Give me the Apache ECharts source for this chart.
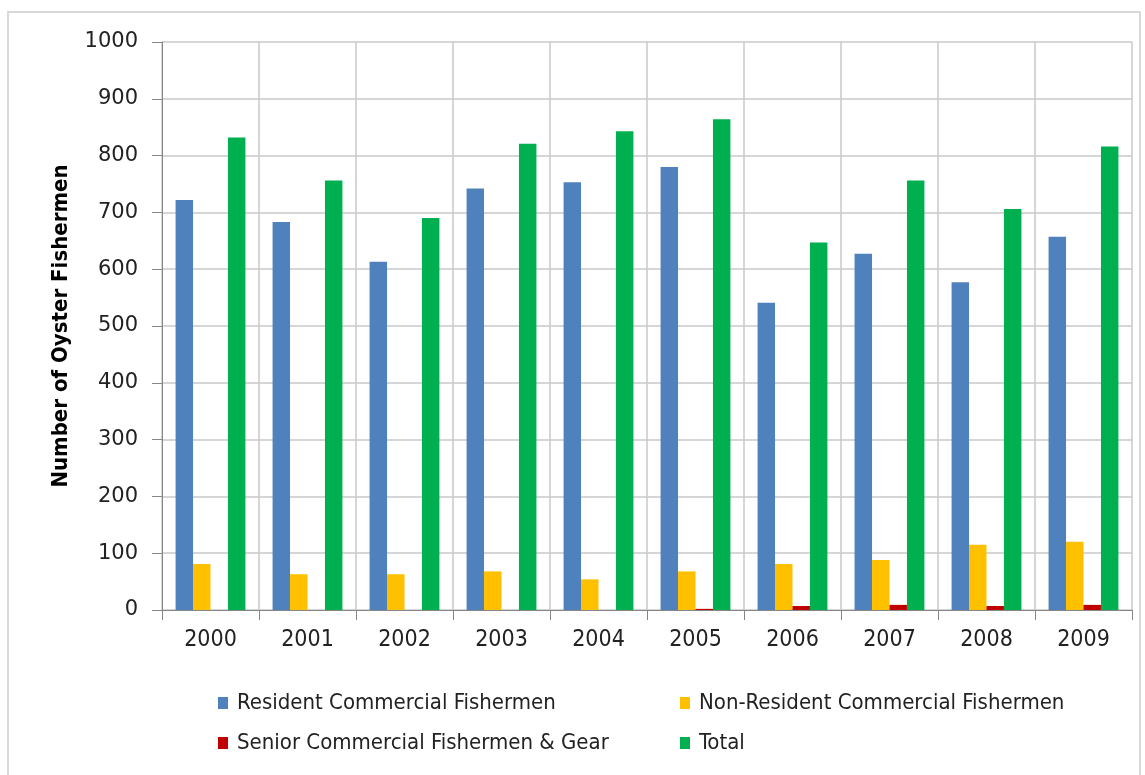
<!DOCTYPE html>
<html>
<head>
<meta charset="utf-8">
<script src="https://cdn.jsdelivr.net/npm/echarts@6/dist/echarts.min.js"></script>
<style>
  html, body { margin: 0; padding: 0; background: #ffffff; }
  #chart { width: 1145px; height: 775px; }
</style>
</head>
<body>
<div id="chart"></div>
<script>
  // years on the x axis
  const years = ['2000', '2001', '2002', '2003', '2004', '2005', '2006', '2007', '2008', '2009']
  const resident = [722, 683, 613, 742, 753, 780, 541, 627, 577, 657]
  const nonResident = [81, 63, 63, 68, 54, 68, 81, 88, 115, 120]
  const senior = [0, 0, 0, 0, 0, 2, 7, 9, 7, 9]
  const total = [832, 756, 690, 821, 843, 864, 647, 756, 706, 816]
  const yTicks = [0, 1000, 100]

  const narrow = "'Liberation Sans Narrow', 'DejaVu Sans Condensed', 'Liberation Sans', sans-serif"
  const color = ['#4f81bd', '#ffc000', '#c00000', '#00b050']
  const names = ['Resident Commercial Fishermen', 'Non-Resident Commercial Fishermen',
    'Senior Commercial Fishermen & Gear', 'Total']
  const legendPos = [[218, 692], [680, 692], [218, 732], [680, 732]]

  let elem = echarts.init(document.getElementById('chart'))
  let option = {
    color: color,
    animation: false,
    graphic: [
      {
        type: 'rect',
        shape: { x: 8, y: 12, width: 1132, height: 780 },
        style: { fill: 'none', stroke: '#d9d9d9', lineWidth: 2 },
        silent: true
      }
    ],
    legend: names.map((n, i) => ({
      data: [n],
      left: legendPos[i][0],
      top: legendPos[i][1],
      icon: 'rect',
      itemWidth: 10,
      itemHeight: 12,
      itemGap: 0,
      padding: 0,
      textStyle: { fontFamily: narrow, fontSize: 22, color: '#222', padding: [0, 0, 0, 4] }
    })),
    grid: {
      left: 162,
      right: 13,
      top: 42,
      bottom: 165
    },
    xAxis: {
      type: 'category',
      data: years,
      axisLine: { lineStyle: { color: '#868686', width: 1 } },
      axisTick: { show: true, length: 10, lineStyle: { color: '#868686' } },
      splitLine: { show: true, lineStyle: { color: '#c8c8c8', width: 1.5 } },
      axisLabel: { margin: 19, fontFamily: narrow, fontSize: 23, color: '#222' }
    },
    yAxis: {
      type: 'value',
      min: yTicks[0],
      max: yTicks[1],
      interval: yTicks[2],
      name: 'Number of Oyster Fishermen',
      nameLocation: 'middle',
      nameGap: 90,
      nameTextStyle: { fontFamily: narrow, fontSize: 22, fontWeight: 'bold', color: '#000' },
      axisLine: { show: true, lineStyle: { color: '#868686' } },
      axisTick: { show: true, length: 10, lineStyle: { color: '#868686' } },
      splitLine: { lineStyle: { color: '#c8c8c8', width: 1.5 } },
      axisLabel: {
        margin: 24,
        fontFamily: "'DejaVu Sans', sans-serif",
        fontSize: 21,
        color: '#222',
        formatter: (v) => String(v)
      }
    },
    series: [
      { name: names[0], type: 'bar', data: resident, barGap: '0%', barCategoryGap: '28%' },
      { name: names[1], type: 'bar', data: nonResident },
      { name: names[2], type: 'bar', data: senior },
      { name: names[3], type: 'bar', data: total }
    ]
  }
  elem.setOption(option)
</script>
</body>
</html>
